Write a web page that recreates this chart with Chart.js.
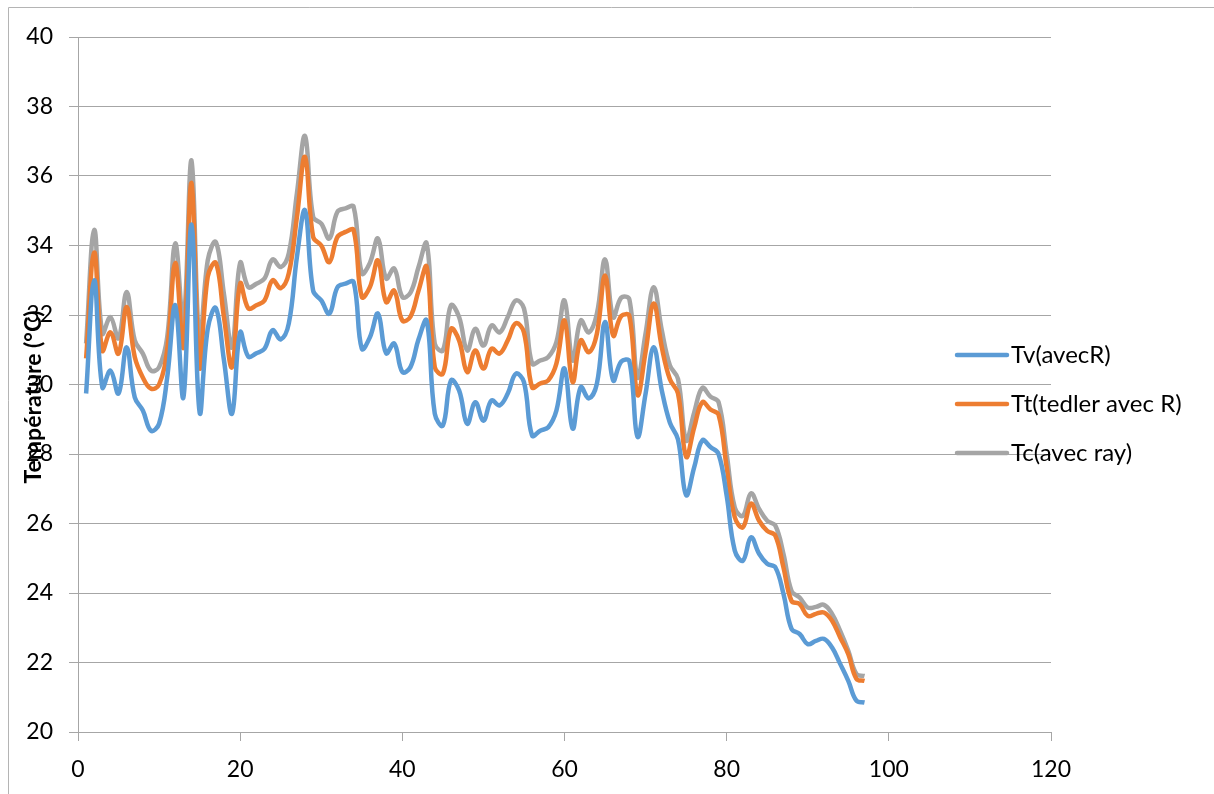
<!DOCTYPE html>
<html>
<head>
<meta charset="utf-8">
<script src="https://cdn.jsdelivr.net/npm/chart.js@4.4.1/dist/chart.umd.min.js"></script>
<style>
  html, body { margin: 0; padding: 0; background: #fff; overflow: hidden; }
  #wrap { position: relative; width: 1214px; height: 794px; }
</style>
</head>
<body>
<div id="wrap"><canvas id="chart"></canvas></div>
<script>
// x positions (index of the sample)
const xValues = [1,2,3,4,5,6,7,8,9,10,11,12,13,14,15,16,17,18,19,20,
  21,22,23,24,25,26,27,28,29,30,31,32,33,34,35,36,37,38,39,40,
  41,42,43,44,45,46,47,48,49,50,51,52,53,54,55,56,57,58,59,60,
  61,62,63,64,65,66,67,68,69,70,71,72,73,74,75,76,77,78,79,80,
  81,82,83,84,85,86,87,88,89,90,91,92,93,94,95,96,97];

// Tv(avecR)
const tvAvecR = [29.74,33.0,29.92,30.4,29.74,31.07,29.63,29.25,28.67,28.87,
  30.2,32.28,29.63,34.6,29.2,31.6,32.2,30.7,29.16,31.5,
  30.8,30.9,31.03,31.56,31.3,31.76,33.67,35.01,32.7,32.42,
  32.04,32.8,32.9,32.95,31.03,31.36,32.04,30.9,31.18,30.36,
  30.5,31.3,31.84,29.16,28.82,30.12,29.83,28.87,29.49,28.96,
  29.54,29.4,29.74,30.31,30.07,28.53,28.67,28.77,29.25,30.46,
  28.73,29.92,29.6,30.03,31.8,30.12,30.66,30.67,28.5,29.74,
  31.07,29.83,28.9,28.42,26.82,27.62,28.39,28.2,28.0,26.8,
  25.22,24.93,25.6,25.13,24.84,24.74,23.98,22.97,22.82,22.53,
  22.62,22.68,22.43,21.96,21.47,20.9,20.85];

// Tt(tedler avec R)
const ttTedler = [30.75,33.8,30.98,31.5,30.89,32.23,30.79,30.2,29.88,30.0,
  31.0,33.5,31.07,35.8,30.5,33.1,33.5,31.94,30.5,32.9,
  32.19,32.28,32.42,33.0,32.77,33.2,34.82,36.55,34.25,34.0,
  33.52,34.25,34.39,34.44,32.52,32.8,33.57,32.37,32.7,31.84,
  31.95,32.7,33.38,30.5,30.31,31.6,31.27,30.36,30.98,30.46,
  31.03,30.89,31.27,31.76,31.5,29.92,30.03,30.12,30.6,31.84,
  30.07,31.27,30.93,31.47,33.14,31.41,31.97,31.97,29.7,30.94,
  32.33,31.07,30.15,29.74,27.92,28.77,29.49,29.28,29.13,27.62,
  26.18,25.89,26.57,26.08,25.79,25.65,24.74,23.77,23.68,23.34,
  23.4,23.44,23.2,22.72,22.24,21.53,21.47];

// Tc(avec ray)
const tcAvecRay = [31.18,34.45,31.47,31.94,31.33,32.66,31.27,30.89,30.4,30.5,
  31.36,34.06,31.76,36.45,31.2,33.57,34.1,32.6,31.07,33.5,
  32.8,32.9,33.05,33.6,33.38,33.78,35.5,37.15,34.82,34.63,
  34.2,34.97,35.07,35.11,33.2,33.5,34.2,33.05,33.34,32.52,
  32.64,33.38,34.06,31.18,30.98,32.28,31.94,30.98,31.6,31.12,
  31.7,31.5,31.94,32.42,32.19,30.6,30.69,30.79,31.22,32.42,
  30.69,31.84,31.5,32.04,33.6,31.94,32.5,32.45,30.2,31.47,
  32.8,31.56,30.55,30.16,28.39,29.2,29.9,29.65,29.49,28.0,
  26.46,26.22,26.87,26.42,26.08,25.94,25.13,24.06,23.87,23.58,
  23.6,23.66,23.4,22.91,22.34,21.67,21.61];

const seriesLabels = ["Tv(avecR)", "Tt(tedler avec R)", "Tc(avec ray)"];
const seriesColors = ["#5b9bd5", "#ed7d31", "#a5a5a5"];
const xTicks = [0, 20, 40, 60, 80, 100, 120];
const yTicks = [20, 22, 24, 26, 28, 30, 32, 34, 36, 38, 40];
const yTitle = "Température (°C)";

const FONT = "Lato, 'Open Sans', sans-serif";
const GRID = "#a6a6a6";

function toPoints(ys) {
  return xValues.map((x, i) => ({ x: x, y: ys[i] }));
}

// frame, rotated y title drawn over the tick labels, and the legend
const extras = {
  id: "extras",
  beforeDraw(chart) {
    const ctx = chart.ctx;
    ctx.save();
    ctx.strokeStyle = "#b4b4b4";
    ctx.lineWidth = 1;
    ctx.beginPath();
    ctx.moveTo(8.5, 794);
    ctx.lineTo(8.5, 7.5);
    ctx.lineTo(1214, 7.5);
    ctx.stroke();
    ctx.restore();
  },
  afterDraw(chart) {
    const ctx = chart.ctx;
    ctx.save();
    ctx.fillStyle = "#000";
    ctx.font = "bold 23px " + FONT;
    ctx.translate(34, 397);
    ctx.rotate(-Math.PI / 2);
    ctx.textAlign = "center";
    ctx.textBaseline = "middle";
    ctx.fillText(yTitle, 0, 0);
    ctx.restore();

    ctx.save();
    chart.data.datasets.forEach((ds, i) => {
      const y = 355 + i * 49;
      ctx.strokeStyle = ds.borderColor;
      ctx.lineWidth = 4.5;
      ctx.lineCap = "round";
      ctx.beginPath();
      ctx.moveTo(957, y);
      ctx.lineTo(1007, y);
      ctx.stroke();
      ctx.fillStyle = "#000";
      ctx.font = "24px " + FONT;
      ctx.textAlign = "left";
      ctx.textBaseline = "middle";
      ctx.fillText(ds.label, 1011, y);
    });
    ctx.restore();
  }
};

new Chart(document.getElementById("chart"), {
  type: "line",
  data: {
    datasets: [tvAvecR, ttTedler, tcAvecRay].map((ys, i) => ({
      label: seriesLabels[i],
      data: toPoints(ys),
      borderColor: seriesColors[i],
      backgroundColor: seriesColors[i],
      borderWidth: 4.5,
      pointRadius: 0,
      tension: 0.4,
      fill: false,
    })),
  },
  options: {
    responsive: true,
    maintainAspectRatio: false,
    animation: false,
    layout: { padding: { top: 37, right: 163, bottom: 0, left: 0 } },
    plugins: {
      legend: { display: false },
      tooltip: { enabled: false },
    },
    scales: {
      x: {
        type: "linear",
        min: 0,
        max: 120,
        afterBuildTicks: (scale) => {
          scale.ticks = xTicks.map((v) => ({ value: v }));
        },
        afterFit: (scale) => {
          scale.height = 62;
        },
        grid: { drawOnChartArea: false, drawTicks: true, tickLength: 9, color: GRID },
        border: { color: GRID },
        ticks: { color: "#000", padding: 15, maxRotation: 0, font: { family: FONT, size: 23 } },
      },
      y: {
        min: 20,
        max: 40,
        afterBuildTicks: (scale) => {
          scale.ticks = yTicks.map((v) => ({ value: v }));
        },
        afterFit: (scale) => {
          scale.width = 78;
        },
        grid: { color: GRID, drawTicks: true, tickLength: 9 },
        border: { color: GRID },
        ticks: { color: "#000", padding: 16, font: { family: FONT, size: 23 } },
      },
    },
  },
  plugins: [extras],
});
</script>
</body>
</html>
